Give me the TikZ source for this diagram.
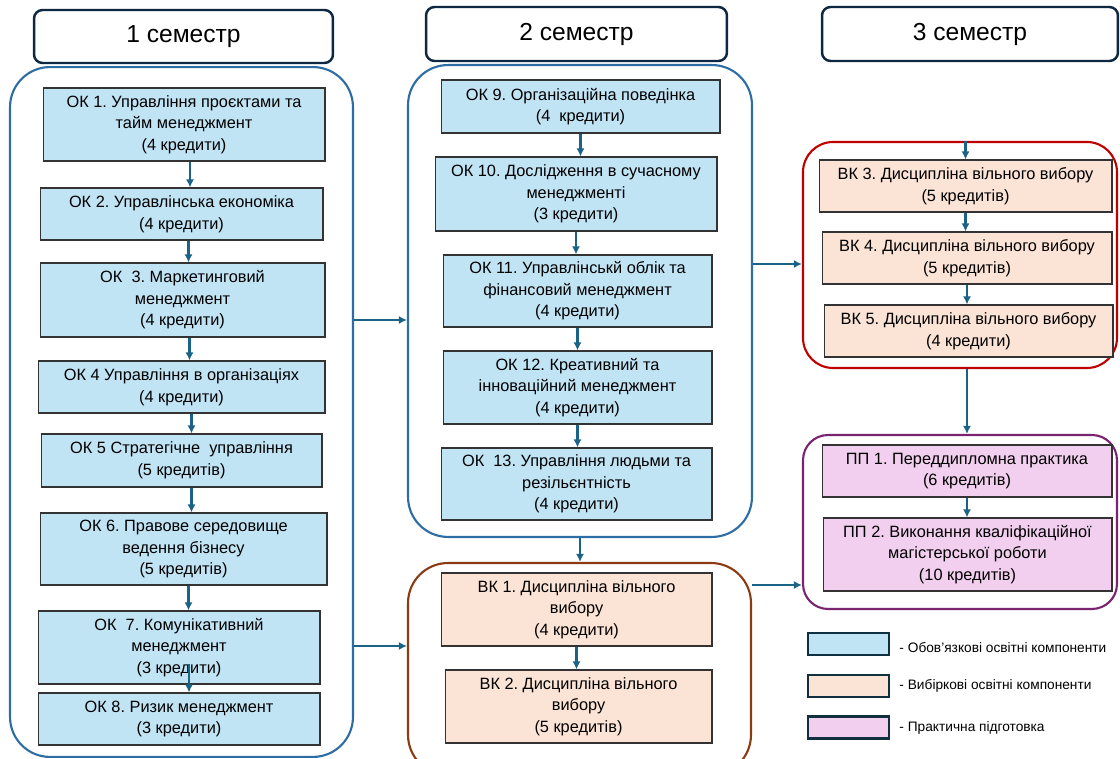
\documentclass[tikz,border=0pt]{standalone}
\usepackage{fontspec}
\setmainfont{Liberation Sans}
\usetikzlibrary{arrows.meta, positioning}
\frenchspacing

\definecolor{okfill}{HTML}{C1E4F5}
\definecolor{vkfill}{HTML}{FBE3D6}
\definecolor{ppfill}{HTML}{F2CEEF}
\definecolor{arrowc}{HTML}{1B6287}
\definecolor{semblue}{HTML}{2E6DA4}
\definecolor{vkbrown}{HTML}{8B3A12}
\definecolor{vkred}{HTML}{C00000}
\definecolor{pppurple}{HTML}{7B2270}
\definecolor{headc}{HTML}{0E2841}
\definecolor{boxline}{HTML}{333333}
\definecolor{legline}{HTML}{10303F}

\tikzset{
    block/.style={rectangle, draw=boxline, line width=0.6pt, align=center, inner sep=0pt, font=\fontsize{9.3}{12.3}\selectfont},
    ok/.style={block, fill=okfill},
    vk/.style={block, fill=vkfill},
    pp/.style={block, fill=ppfill},
    group/.style={rectangle, rounded corners=0.8cm, line width=1.2pt, inner sep=0pt},
    head/.style={rectangle, draw=headc, line width=1.4pt, rounded corners=0.17cm, font=\fontsize{14}{16}\selectfont},
    legbox/.style={rectangle, draw=legline, line width=1.3pt, minimum width=1.62cm, minimum height=0.44cm},
    legtext/.style={font=\fontsize{7.8}{9}\selectfont, inner sep=0pt},
    line/.style={draw=arrowc, ->, line width=1.2pt}
}

\begin{document}
\begin{tikzpicture}[x=0.02cm, y=-0.02cm, >={Latex[length=4.6pt, width=4.6pt]}]

    \useasboundingbox (0,0) rectangle (1120,759);

    % semester headers
    \node [head, minimum width=5.98cm, minimum height=1.06cm] (head1) at (183.5,36.5) {1 семестр};
    \node [head, minimum width=6.02cm, minimum height=1.08cm] (head2) at (576.5,34) {2 семестр};
    \node [head, minimum width=5.92cm, minimum height=1.08cm] (head3) at (970,34) {3 семестр};

    % group frames
    \node [group, draw=semblue, minimum width=6.86cm, minimum height=13.8cm] (sem1) at (181.5,412) {};
    \node [group, draw=semblue, minimum width=6.88cm, minimum height=9.44cm] (sem2) at (580,301) {};
    \node [group, draw=vkbrown, minimum width=6.86cm, minimum height=4.24cm] (elec2) at (579.5,669) {};
    \node [group, draw=vkred, rounded corners=0.6cm, minimum width=6.28cm, minimum height=4.52cm] (elec3) at (960,255) {};
    \node [group, draw=pppurple, rounded corners=0.5cm, minimum width=6.28cm, minimum height=3.48cm] (prac) at (960,522) {};

    % 1 semester
    \node [ok, minimum width=5.64cm, minimum height=1.46cm] (ok1) at (184,124.5) {ОК 1. Управління проєктами та\\тайм менеджмент\\(4 кредити)};
    \node [ok, minimum width=5.66cm, minimum height=1.04cm] (ok2) at (181.5,214) {ОК 2. Управлінська економіка\\(4 кредити)};
    \node [ok, minimum width=5.70cm, minimum height=1.48cm] (ok3) at (182.5,300) {ОК\ \ 3. Маркетинговий\\менеджмент\\(4 кредити)};
    \node [ok, minimum width=5.74cm, minimum height=1.04cm] (ok4) at (181.5,387) {ОК 4 Управління в організаціях\\(4 кредити)};
    \node [ok, minimum width=5.62cm, minimum height=1.06cm] (ok5) at (181.5,460.5) {ОК 5 Стратегічне\ \ управління\\(5 кредитів)};
    \node [ok, minimum width=5.74cm, minimum height=1.44cm] (ok6) at (183.5,549) {ОК 6. Правове середовище\\ведення бізнесу\\(5 кредитів)};
    \node [ok, minimum width=5.64cm, minimum height=1.46cm] (ok7) at (179,647.5) {ОК\ \ 7. Комунікативний\\менеджмент\\(3 кредити)};
    \node [ok, minimum width=5.64cm, minimum height=1.04cm] (ok8) at (179,719) {ОК 8. Ризик менеджмент\\(3 кредити)};

    % 2 semester
    \node [ok, minimum width=5.58cm, minimum height=1.06cm] (ok9) at (580.5,106.5) {ОК 9. Організаційна поведінка\\(4\ \ кредити)};
    \node [ok, minimum width=5.64cm, minimum height=1.48cm] (ok10) at (576,194) {ОК 10. Дослідження в сучасному\\менеджменті\\(3 кредити)};
    \node [ok, minimum width=5.38cm, minimum height=1.44cm] (ok11) at (577.5,291) {ОК 11. Управлінськй облік та\\фінансовий менеджмент\\(4 кредити)};
    \node [ok, minimum width=5.38cm, minimum height=1.46cm] (ok12) at (577.5,387.5) {ОК 12. Креативний та\\інноваційний менеджмент\\(4 кредити)};
    \node [ok, minimum width=5.42cm, minimum height=1.44cm] (ok13) at (576.5,484) {ОК\ \ 13. Управління людьми та\\резільєнтність\\(4 кредити)};
    \node [vk, minimum width=5.42cm, minimum height=1.46cm] (vk1) at (576.5,609.5) {ВК 1. Дисципліна вільного\\вибору\\(4 кредити)};
    \node [vk, minimum width=5.34cm, minimum height=1.46cm] (vk2) at (578.5,706.5) {ВК 2. Дисципліна вільного\\вибору\\(5 кредитів)};

    % 3 semester
    \node [vk, minimum width=5.86cm, minimum height=1.04cm] (vk3) at (965.5,186) {ВК 3. Дисципліна вільного вибору\\(5 кредитів)};
    \node [vk, minimum width=5.80cm, minimum height=1.04cm] (vk4) at (967,258) {ВК 4. Дисципліна вільного вибору\\(5 кредитів)};
    \node [vk, minimum width=5.78cm, minimum height=1.04cm] (vk5) at (968.5,331) {ВК 5. Дисципліна вільного вибору\\(4 кредити)};
    \node [pp, minimum width=5.80cm, minimum height=1.04cm] (pp1) at (967,471) {ПП 1. Переддипломна практика\\(6 кредитів)};
    \node [pp, minimum width=5.78cm, minimum height=1.46cm] (pp2) at (967.5,554.5) {ПП 2. Виконання кваліфікаційної\\магістерської роботи\\(10 кредитів)};

    % legend
    \node [legbox, fill=okfill] (leg1) at (848.5,644) {};
    \node [legbox, fill=vkfill] (leg2) at (848.5,686) {};
    \node [legbox, fill=ppfill] (leg3) at (848.5,727.5) {};
    \node [legtext, right=0.18cm of leg1, yshift=-0.08cm] (legt1) {- Обов'язкові освітні компоненти};
    \node [legtext, right=0.18cm of leg2] (legt2) {- Вибіркові освітні компоненти};
    \node [legtext, right=0.18cm of leg3] (legt3) {- Практична підготовка};

    % arrows inside the groups
    \path [line] ([xshift=0.12cm]ok1.south) -- ([xshift=0.12cm]ok1.south |- ok2.north);
    \path [line] ([xshift=0.14cm]ok2.south) -- ([xshift=0.14cm]ok2.south |- ok3.north);
    \path [line] ([xshift=0.14cm]ok3.south) -- ([xshift=0.14cm]ok3.south |- ok4.north);
    \path [line] ([xshift=0.2cm]ok4.south) -- ([xshift=0.2cm]ok4.south |- ok5.north);
    \path [line] ([xshift=0.2cm]ok5.south) -- ([xshift=0.2cm]ok5.south |- ok6.north);
    \path [line] ([xshift=0.1cm]ok6.south) -- ([xshift=0.1cm]ok6.south |- ok7.north);
    \path [line] ([xshift=0.2cm, yshift=0.42cm]ok7.south) -- ([xshift=0.2cm]ok7.south |- ok8.north);
    \path [line] (ok9.south) -- (ok9.south |- ok10.north);
    \path [line] (ok10.south) -- (ok10.south |- ok11.north);
    \path [line] (ok11.south) -- (ok11.south |- ok12.north);
    \path [line] (ok12.south) -- (ok12.south |- ok13.north);
    \path [line] (vk1.south) -- (vk1.south |- vk2.north);
    \path [line] (vk3.north |- elec3.north) -- (vk3.north);
    \path [line] (vk3.south) -- (vk3.south |- vk4.north);
    \path [line] (vk4.south) -- (vk4.south |- vk5.north);
    \path [line] (pp1.south) -- (pp1.south |- pp2.north);

    % arrows between the groups
    \path [line] (sem1.east |- 0,320) -- (sem2.west |- 0,320);
    \path [line] (sem1.east |- 0,646) -- (elec2.west |- 0,646);
    \path [line] (sem2.south) -- (sem2.south |- elec2.north);
    \path [line] (sem2.east |- 0,264) -- (elec3.west |- 0,264);
    \path [line] (elec2.east |- 0,585) -- (prac.west |- 0,585);
    \path [line] (elec3.south -| pp1.north) -- (prac.north -| pp1.north);
\end{tikzpicture}
\end{document}
